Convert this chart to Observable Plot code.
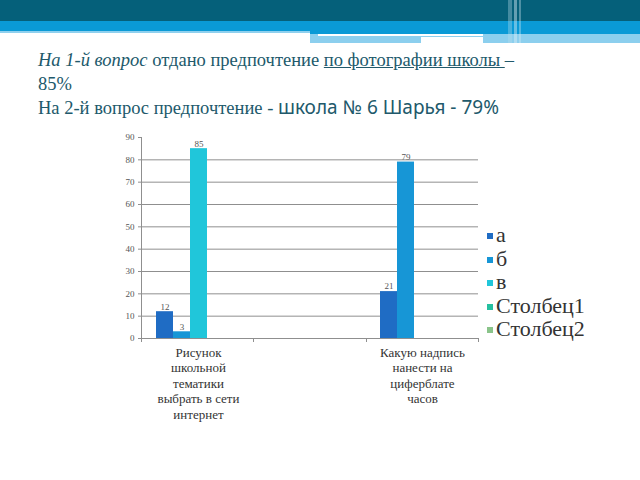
<!DOCTYPE html>
<html><head><meta charset="utf-8">
<script src="https://cdn.jsdelivr.net/npm/d3@7"></script>
<script src="https://cdn.jsdelivr.net/npm/@observablehq/plot@0.6"></script>
<style>
body{margin:0;background:#fff;}
#page{position:relative;width:640px;height:480px;overflow:hidden;background:#fff;}
.band{position:absolute;}
#chart{position:absolute;left:0;top:130px;}
#legend .row{display:flex;align-items:center;}
#legend .sw{width:6px;height:6px;margin-right:3px;margin-top:3px;}
.ser, .ser *{font-family:'Liberation Serif', 'Times New Roman', serif !important;}
.ser .s{font-family:'Noto Sans', sans-serif !important;}
</style></head>
<body><div id="page">
<div class="band" style="left:0;top:0;width:640px;height:21px;background:#05607a"></div>
<div class="band" style="left:0;top:21px;width:640px;height:10px;background:#0a9ad6"></div>
<div class="band" style="left:0;top:31px;width:310px;height:2px;background:#8fd0ee"></div>
<div class="band" style="left:310px;top:31px;width:330px;height:3px;background:#0a9ad6"></div>
<div class="band" style="left:310px;top:34px;width:330px;height:9px;background:#8ccfee"></div>
<div class="band" style="left:318px;top:34px;width:165px;height:2px;background:#ffffff"></div>
<div class="band" style="left:421px;top:37px;width:62px;height:6px;background:#ffffff"></div>
<div class="band" style="left:508px;top:0;width:4px;height:43px;background:#b9dcea;opacity:0.35"></div>
<div class="band" style="left:514px;top:0;width:3px;height:43px;background:#d9eef6;opacity:0.45"></div>
<div class="band" style="left:519px;top:0;width:2px;height:43px;background:#d9eef6;opacity:0.35"></div>
<div id="title" class="ser" style="position:absolute;left:38px;top:49px;font-size:18.5px;line-height:23.5px;color:#21596b;white-space:nowrap;">
<div><i>На 1-й вопрос</i> отдано предпочтение <span style="text-decoration:underline"> по фотографии школы </span>–</div>
<div>85%</div>
<div>На 2-й вопрос предпочтение - <span class="s" style="font-size:19px">школа № 6 Шарья - 79%</span></div>
</div>
<div id="chart"></div>
<div id="legend" class="ser" style="position:absolute;left:487px;top:223px;font-size:22px;line-height:23.5px;color:#333;"></div>
</div>
<script>
const categories = ["Рисунок\nшкольной\nтематики\nвыбрать в сети\nинтернет", " ", "Какую надпись\nнанести на\nциферблате\nчасов"];
const series = ["а", "б", "в", "Столбец1", "Столбец2"];
const colors = ["#1f6cc4", "#1796d6", "#20c6da", "#25c0a0", "#8ac48a"];
const valuesA = [12, null, 21];
const valuesB = [3, null, 79];
const valuesV = [85, null, null];
const valuesS1 = [null, null, null];
const valuesS2 = [null, null, null];
const yTicks = [0, 10, 20, 30, 40, 50, 60, 70, 80, 90];
const gridTicks = [0, 10, 20, 30, 40, 50, 60, 70, 80];

const allValues = [valuesA, valuesB, valuesV, valuesS1, valuesS2];
const data = [];
series.forEach((s, si) => categories.forEach((c, ci) => {
  const v = allValues[si][ci];
  if (v != null) data.push({cat: c, series: s, value: v});
}));
const grid = [];
categories.forEach(c => gridTicks.forEach(v => grid.push({cat: c, v})));

const serif = "'Liberation Serif', serif";
const W = 640, H = 305, mL = 141, mR = 162, mT = 7, mB = 97;
const plot = Plot.plot({
  width: W, height: H,
  marginLeft: mL, marginRight: mR, marginTop: mT, marginBottom: mB,
  style: {fontFamily: serif, background: "transparent"},
  fx: {domain: categories, padding: 0, label: null},
  x: {domain: series, paddingInner: 0, paddingOuter: 0.64, axis: null},
  y: {domain: [0, 90], label: null},
  color: {domain: series, range: colors},
  marks: [
    Plot.ruleY(grid, {fx: "cat", y: "v", stroke: "#8f8f8f", strokeWidth: 1}),
    Plot.barY(data, {fx: "cat", x: "series", y: "value", fill: "series", inset: 0}),
    Plot.text(data, {fx: "cat", x: "series", y: "value", text: "value", dy: -5, fontSize: 9, fill: "#555"}),
    Plot.axisY({ticks: yTicks, tickSize: 4, tickPadding: 4, fontSize: 9, stroke: "#8f8f8f", fill: "#555", label: null}),
    Plot.axisFx({anchor: "bottom", tickSize: 0, tickPadding: 7, fontSize: 13, lineHeight: 1.2, fill: "#333", label: null})
  ]
});
document.getElementById("chart").appendChild(plot);

const svg = d3.select(plot);
svg.selectAll("text").style("font-family", "'Liberation Serif', serif", "important");

// axis line on the left and category boundary ticks
const ys = plot.scale("y");
const fxs = plot.scale("fx");
const y0 = ys.range[0], y1 = ys.range[1];
svg.append("line").attr("x1", mL + 0.5).attr("x2", mL + 0.5).attr("y1", y1).attr("y2", y0)
  .attr("stroke", "#8f8f8f");
const x0 = fxs.range[0], step = (fxs.range[1] - fxs.range[0]) / categories.length;
d3.range(categories.length + 1).forEach(i => {
  const x = Math.round(x0 + i * step) + 0.5;
  svg.append("line").attr("x1", x).attr("x2", x).attr("y1", y0).attr("y2", y0 + 4).attr("stroke", "#8f8f8f");
});

// legend
const leg = d3.select("#legend");
series.forEach((s, i) => {
  const r = leg.append("div").attr("class", "row");
  r.append("div").attr("class", "sw").style("background", colors[i]);
  r.append("span").text(s);
});
</script>
</body></html>
